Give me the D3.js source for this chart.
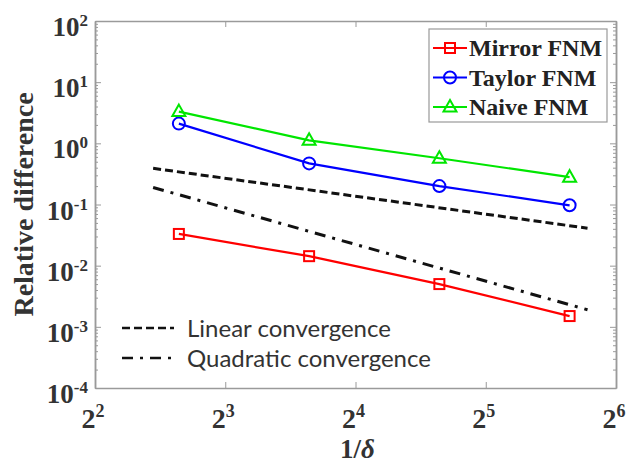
<!DOCTYPE html>
<html>
<head>
<meta charset="utf-8">
<script src="https://cdn.jsdelivr.net/npm/d3@7"></script>
<style>
  body { margin: 0; background: #fff; }
</style>
</head>
<body>
<div id="chart"></div>
<script>
// data
const xValues = [6.25, 12.5, 25, 50];
const seriesNames = ["Mirror FNM", "Taylor FNM", "Naive FNM"];
const mirrorValues = [0.033, 0.0143, 0.005, 0.0015];
const taylorValues = [2.1, 0.47, 0.2, 0.097];
const naiveValues = [3.3, 1.12, 0.57, 0.28];
const refX = [5.45, 55];
const linearRef = [0.39, 0.041];
const quadraticRef = [0.19, 0.0019];
const xTickExps = [2, 3, 4, 5, 6];
const yTickExps = [-4, -3, -2, -1, 0, 1, 2];

const width = 629, height = 467;
const plot = { left: 95, right: 616, top: 21, bottom: 388 };
const serif = "'Liberation Serif', 'Times New Roman', serif";

const svg = d3.select("#chart").append("svg")
  .attr("width", width)
  .attr("height", height);

const x = d3.scaleLog().base(2).domain([4, 64]).range([plot.left, plot.right]);
const y = d3.scaleLog().domain([1e-4, 1e2]).range([plot.bottom, plot.top]);

const majorY = yTickExps.map(e => Math.pow(10, e));
const minorY = [];
yTickExps.slice(0, -1).forEach(e => {
  for (let k = 2; k <= 9; k++) minorY.push(k * Math.pow(10, e));
});
const majorX = xTickExps.map(e => Math.pow(2, e));

// box + ticks (inward, MATLAB style)
const axisColor = "#9a9a9a";
function styleAxis(g) {
  g.selectAll("path, line").attr("stroke", axisColor);
  g.selectAll("text").remove();
}

svg.append("g").attr("transform", `translate(${plot.left},0)`)
  .call(d3.axisLeft(y).tickValues(majorY).tickSizeInner(-6).tickSizeOuter(0))
  .call(styleAxis);
svg.append("g").attr("transform", `translate(${plot.left},0)`)
  .call(d3.axisLeft(y).tickValues(minorY).tickSizeInner(-3).tickSizeOuter(0))
  .call(styleAxis);
svg.append("g").attr("transform", `translate(${plot.right},0)`)
  .call(d3.axisRight(y).tickValues(majorY).tickSizeInner(-6).tickSizeOuter(0))
  .call(styleAxis);
svg.append("g").attr("transform", `translate(${plot.right},0)`)
  .call(d3.axisRight(y).tickValues(minorY).tickSizeInner(-3).tickSizeOuter(0))
  .call(styleAxis);
svg.append("g").attr("transform", `translate(0,${plot.bottom})`)
  .call(d3.axisBottom(x).tickValues(majorX).tickSizeInner(-6).tickSizeOuter(0))
  .call(styleAxis);
svg.append("g").attr("transform", `translate(0,${plot.top})`)
  .call(d3.axisTop(x).tickValues(majorX).tickSizeInner(-6).tickSizeOuter(0))
  .call(styleAxis);

svg.selectAll("path.domain").attr("stroke-width", 1.5);

// tick labels with superscripts
const yLabels = svg.append("g")
  .style("font-family", serif)
  .style("font-weight", "bold")
  .attr("fill", "#333");

yLabels.selectAll("text")
  .data(yTickExps)
  .enter().append("text")
  .attr("x", 88)
  .attr("y", d => y(Math.pow(10, d)) + 15)
  .attr("text-anchor", "end")
  .each(function(d) {
    const t = d3.select(this);
    t.append("tspan").style("font-size", "27px").text("10");
    t.append("tspan").style("font-size", "17px").attr("dy", -10).text(d);
  });

const xLabels = svg.append("g")
  .style("font-family", serif)
  .style("font-weight", "bold")
  .attr("fill", "#333");

xLabels.selectAll("text")
  .data(xTickExps)
  .enter().append("text")
  .attr("x", d => x(Math.pow(2, d)) - 2)
  .attr("y", 428)
  .attr("text-anchor", "middle")
  .each(function(d) {
    const t = d3.select(this);
    t.append("tspan").style("font-size", "28px").text("2");
    t.append("tspan").style("font-size", "18px").attr("dy", -11).text(d);
  });

// axis titles
svg.append("text")
  .attr("transform", `translate(33,${(plot.top + plot.bottom) / 2}) rotate(-90)`)
  .attr("text-anchor", "middle")
  .style("font-family", serif)
  .style("font-weight", "bold")
  .style("font-size", "28px")
  .attr("fill", "#333")
  .text("Relative difference");

const xTitle = svg.append("text")
  .attr("x", (plot.left + plot.right) / 2 + 2)
  .attr("y", 458)
  .attr("text-anchor", "middle")
  .style("font-family", serif)
  .style("font-weight", "bold")
  .style("font-size", "27px")
  .attr("fill", "#333");
xTitle.append("tspan").text("1/");
xTitle.append("tspan").style("font-style", "italic").text("δ");

// reference lines
const refLine = d3.line().x(d => x(d[0])).y(d => y(d[1]));

svg.append("path")
  .datum(refX.map((v, i) => [v, linearRef[i]]))
  .attr("d", refLine)
  .attr("fill", "none")
  .attr("stroke", "#111")
  .attr("stroke-width", 3)
  .attr("stroke-dasharray", "8 4");

svg.append("path")
  .datum(refX.map((v, i) => [v, quadraticRef[i]]))
  .attr("d", refLine)
  .attr("fill", "none")
  .attr("stroke", "#111")
  .attr("stroke-width", 3)
  .attr("stroke-dasharray", "11 7 3 7");

// data series
const series = [
  { name: seriesNames[0], values: mirrorValues, color: "#ff0000", marker: "square" },
  { name: seriesNames[1], values: taylorValues, color: "#0000ff", marker: "circle" },
  { name: seriesNames[2], values: naiveValues, color: "#00e600", marker: "triangle" }
];

function drawMarker(g, type, cx, cy, color) {
  if (type === "square") {
    g.append("rect")
      .attr("x", cx - 5).attr("y", cy - 5)
      .attr("width", 10).attr("height", 10)
      .attr("fill", "none").attr("stroke", color).attr("stroke-width", 2);
  } else if (type === "circle") {
    g.append("circle")
      .attr("cx", cx).attr("cy", cy).attr("r", 6)
      .attr("fill", "none").attr("stroke", color).attr("stroke-width", 2);
  } else {
    g.append("path")
      .attr("d", `M${cx},${cy - 7}L${cx + 6.5},${cy + 4.5}L${cx - 6.5},${cy + 4.5}Z`)
      .attr("fill", "none").attr("stroke", color).attr("stroke-width", 2);
  }
}

const line = d3.line().x((d, i) => x(xValues[i])).y(d => y(d));

series.forEach(s => {
  svg.append("path")
    .datum(s.values)
    .attr("d", line)
    .attr("fill", "none")
    .attr("stroke", s.color)
    .attr("stroke-width", 2.2);
  const mg = svg.append("g");
  s.values.forEach((v, i) => drawMarker(mg, s.marker, x(xValues[i]), y(v), s.color));
});

// series legend
const legend = svg.append("g");
legend.append("rect")
  .attr("x", 429).attr("y", 29)
  .attr("width", 178).attr("height", 93)
  .attr("fill", "#fff")
  .attr("stroke", "#999")
  .attr("stroke-width", 1.2);

series.forEach((s, i) => {
  const ly = 48 + i * 29.5;
  legend.append("line")
    .attr("x1", 433).attr("x2", 467)
    .attr("y1", ly).attr("y2", ly)
    .attr("stroke", s.color).attr("stroke-width", 2);
  drawMarker(legend, s.marker, 450, ly, s.color);
  legend.append("text")
    .attr("x", 469).attr("y", ly + 8)
    .style("font-family", serif)
    .style("font-weight", "bold")
    .style("font-size", "24px")
    .attr("fill", "#222")
    .text(s.name);
});

// convergence legend
const refLegend = [
  { label: "Linear convergence", dash: "8 4", y: 328 },
  { label: "Quadratic convergence", dash: "11 7 3 7", y: 358 }
];
refLegend.forEach(r => {
  svg.append("line")
    .attr("x1", 122).attr("x2", 174)
    .attr("y1", r.y).attr("y2", r.y)
    .attr("stroke", "#111")
    .attr("stroke-width", 2.5)
    .attr("stroke-dasharray", r.dash);
  svg.append("text")
    .attr("x", 187).attr("y", r.y + 9)
    .style("font-family", "Lato, 'Open Sans', sans-serif")
    .style("font-size", "24px")
    .attr("fill", "#333")
    .text(r.label);
});
</script>
</body>
</html>
